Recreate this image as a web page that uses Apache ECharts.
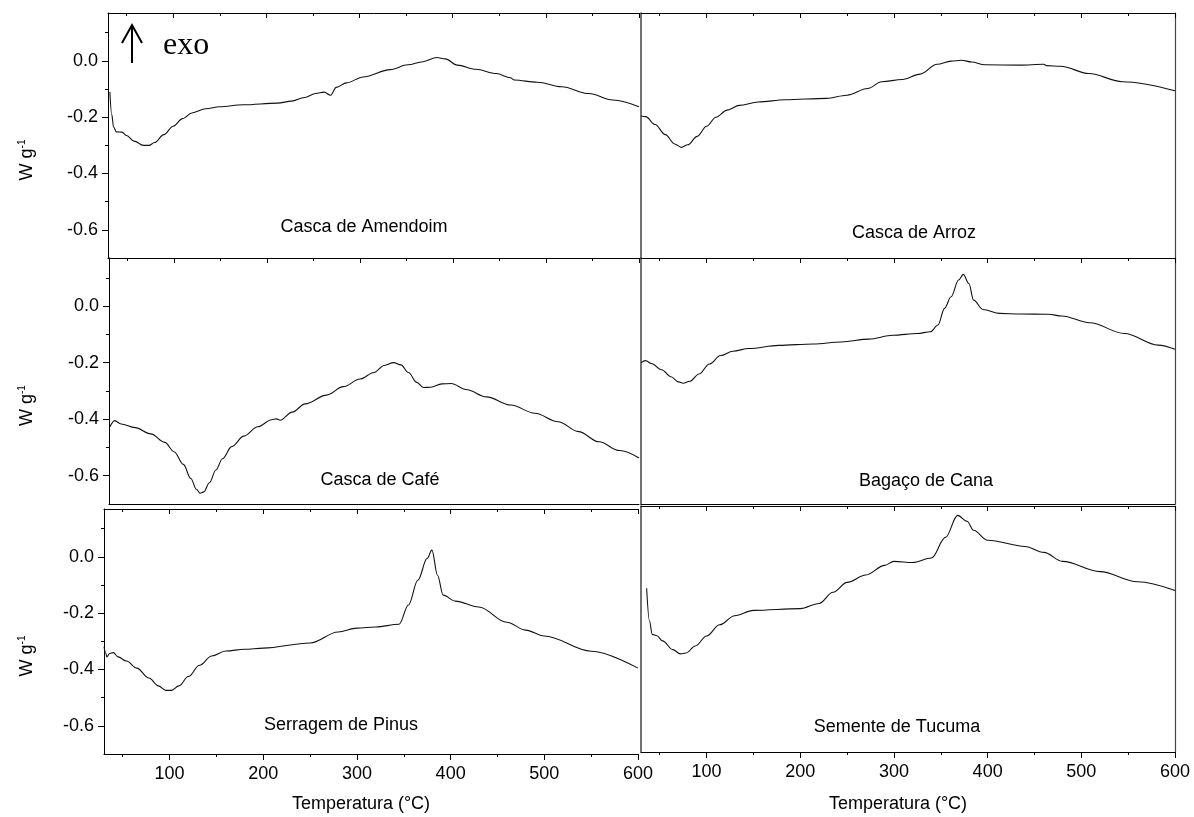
<!DOCTYPE html>
<html><head><meta charset="utf-8">
<script src="https://cdn.jsdelivr.net/npm/echarts@6/dist/echarts.min.js"></script>
<style>html,body{margin:0;padding:0;background:#fff}#c{width:1194px;height:817px}</style>
</head><body><div id="c"></div>
<script>
// ---------- DATA ----------
const panelNames = ['Casca de Amendoim', 'Casca de Arroz', 'Casca de Café', 'Bagaço de Cana', 'Serragem de Pinus', 'Semente de Tucuma'];

const T_amendoim = [32, 34, 36, 39, 45, 50, 58, 68, 74, 80, 90, 100, 110, 120, 135, 150, 175, 212, 227, 241, 253, 262, 269, 275, 286, 304, 333, 352, 368, 383, 392, 405, 425, 447, 462, 466, 491, 517, 546, 572, 600];
const W_amendoim = [-0.110, -0.190, -0.235, -0.252, -0.253, -0.265, -0.285, -0.300, -0.300, -0.290, -0.262, -0.232, -0.205, -0.185, -0.170, -0.163, -0.156, -0.150, -0.143, -0.130, -0.116, -0.111, -0.122, -0.094, -0.078, -0.057, -0.031, -0.014, -0.003, 0.012, 0.007, -0.015, -0.030, -0.045, -0.060, -0.068, -0.076, -0.092, -0.116, -0.139, -0.163];

const T_arroz = [30, 35, 45, 56, 66, 73, 80, 90, 100, 110, 122, 135, 155, 184, 228, 250, 272, 287, 309, 328, 346, 361, 372, 383, 397, 434, 460, 463, 478, 508, 544, 600];
const W_arroz = [-0.196, -0.198, -0.226, -0.262, -0.295, -0.307, -0.298, -0.268, -0.232, -0.200, -0.175, -0.158, -0.146, -0.138, -0.133, -0.122, -0.098, -0.074, -0.066, -0.047, -0.012, -0.001, 0.002, -0.004, -0.014, -0.015, -0.012, -0.017, -0.019, -0.045, -0.074, -0.106];

const T_cafe = [31, 36, 43, 58, 75, 90, 100, 110, 118, 124, 128, 132, 138, 145, 152, 162, 175, 190, 205, 210, 214, 227, 241, 264, 282, 300, 315, 326, 336, 344, 352, 361, 368, 376, 388, 398, 414, 436, 462, 488, 513, 535, 557, 579, 600];
const W_cafe = [-0.427, -0.405, -0.417, -0.430, -0.452, -0.482, -0.515, -0.560, -0.610, -0.648, -0.662, -0.657, -0.625, -0.580, -0.540, -0.497, -0.460, -0.427, -0.402, -0.399, -0.404, -0.375, -0.346, -0.315, -0.285, -0.258, -0.235, -0.210, -0.200, -0.208, -0.235, -0.270, -0.288, -0.287, -0.275, -0.274, -0.295, -0.321, -0.350, -0.379, -0.409, -0.444, -0.480, -0.511, -0.537];

const T_cana = [30, 35, 41, 52, 62, 70, 75, 82, 92, 103, 115, 128, 145, 177, 214, 244, 273, 299, 325, 339, 347, 354, 361, 369, 374, 380, 385, 395, 413, 435, 465, 479, 509, 546, 582, 600];
const W_cana = [-0.200, -0.193, -0.203, -0.225, -0.250, -0.268, -0.273, -0.266, -0.240, -0.205, -0.175, -0.160, -0.150, -0.139, -0.134, -0.127, -0.117, -0.103, -0.097, -0.091, -0.067, -0.008, 0.033, 0.092, 0.112, 0.080, 0.021, -0.012, -0.026, -0.028, -0.029, -0.035, -0.059, -0.097, -0.138, -0.153];

const T_pinus = [30, 32, 33, 36, 40, 45, 54, 65, 78, 88, 96, 102, 110, 120, 132, 145, 160, 180, 200, 250, 280, 300, 320, 345, 355, 365, 375, 380, 386, 392, 405, 430, 460, 480, 500, 550, 600];
const W_pinus = [-0.319, -0.343, -0.355, -0.343, -0.340, -0.355, -0.370, -0.395, -0.430, -0.458, -0.474, -0.474, -0.458, -0.425, -0.385, -0.352, -0.334, -0.328, -0.324, -0.306, -0.267, -0.253, -0.249, -0.239, -0.171, -0.083, -0.005, 0.024, -0.065, -0.136, -0.157, -0.178, -0.232, -0.260, -0.281, -0.335, -0.395];

const T_tucuma = [36, 39, 42, 47, 53, 64, 72, 78, 88, 100, 114, 130, 150, 200, 220, 235, 250, 270, 290, 300, 320, 340, 355, 368, 378, 385, 400, 440, 460, 480, 520, 560, 600];
const W_tucuma = [-0.121, -0.236, -0.284, -0.289, -0.307, -0.338, -0.353, -0.350, -0.325, -0.290, -0.250, -0.218, -0.199, -0.193, -0.175, -0.135, -0.100, -0.074, -0.040, -0.026, -0.030, -0.014, 0.059, 0.137, 0.116, 0.084, 0.049, 0.027, 0.006, -0.026, -0.062, -0.098, -0.129];

const xMajorTicks = [100, 200, 300, 400, 500, 600];
const xMinorTicks = [50, 150, 250, 350, 450, 550];
const yMajorTicks = [-0.6, -0.4, -0.2, 0.0];
const yMinorTicks = [-0.5, -0.3, -0.1, 0.1];
const xAxisTitle = 'Temperatura (°C)';
const yAxisTitleMain = 'W g';
const yAxisTitleSup = '-1';
const exoLabel = 'exo';

// ---------- LAYOUT ----------
const X_MIN = 30, X_MAX = 600, Y_MIN = -0.7, Y_MAX = 0.17;
const FONT = '"Liberation Sans", Arial, sans-serif';
const FS = 18;
const seriesT = [T_amendoim, T_arroz, T_cafe, T_cana, T_pinus, T_tucuma];
const seriesW = [W_amendoim, W_arroz, W_cafe, W_cana, W_pinus, W_tucuma];
const layout = [
  { left: 108, top: 13, width: 531, height: 245, col: 0, row: 0, lx: 364, ly: 227 },
  { left: 641, top: 13, width: 534, height: 245, col: 1, row: 0, lx: 914, ly: 233 },
  { left: 109, top: 258, width: 530, height: 246, col: 0, row: 1, lx: 380, ly: 480 },
  { left: 641, top: 258, width: 534, height: 246, col: 1, row: 1, lx: 926, ly: 481 },
  { left: 104, top: 509, width: 534, height: 245, col: 0, row: 2, lx: 341, ly: 725 },
  { left: 641, top: 506, width: 534, height: 246, col: 1, row: 2, lx: 897, ly: 727 }
];

const grid = [], xAxis = [], yAxis = [], series = [], graphic = [];
const black = '#000';
layout.forEach((p, i) => {
  const isBottom = p.row === 2, isLeft = p.col === 0;
  for (let k = 0; k < 2; k++) {
    grid.push({ left: p.left, top: p.top, width: p.width, height: p.height, containLabel: false });
  }
  const gMain = 2 * i, gMinor = 2 * i + 1;
  xAxis.push({
    gridIndex: gMain, type: 'value', min: X_MIN, max: X_MAX, position: 'bottom',
    axisLine: { show: true, onZero: false, lineStyle: { color: black, width: 1 } },
    axisTick: { show: isBottom, customValues: xMajorTicks, length: 6, lineStyle: { color: black } },
    axisLabel: { show: isBottom, customValues: xMajorTicks, margin: 11, color: black, fontSize: FS, fontFamily: FONT, showMinLabel: true, showMaxLabel: true },
    splitLine: { show: false }
  });
  xAxis.push({
    gridIndex: gMain, type: 'value', min: X_MIN, max: X_MAX, position: 'top',
    axisLine: { show: true, onZero: false, lineStyle: { color: black, width: 1 } },
    axisTick: { show: true, inside: true, customValues: xMajorTicks, length: 5, lineStyle: { color: black } },
    axisLabel: { show: false }, splitLine: { show: false }
  });
  yAxis.push({
    gridIndex: gMain, type: 'value', min: Y_MIN, max: Y_MAX, position: 'left',
    axisLine: { show: true, onZero: false, lineStyle: { color: isLeft ? black : '#444', width: isLeft ? 1 : 1.5 } },
    axisTick: { show: isLeft, customValues: yMajorTicks, length: 6, lineStyle: { color: black } },
    axisLabel: { show: isLeft, customValues: yMajorTicks, margin: 10, color: black, fontSize: FS, fontFamily: FONT, formatter: v => (+v).toFixed(1) },
    splitLine: { show: false }
  });
  yAxis.push({
    gridIndex: gMain, type: 'value', min: Y_MIN, max: Y_MAX, position: 'right',
    axisLine: { show: !isLeft, onZero: false, lineStyle: { color: '#444', width: 1.2 } },
    axisTick: { show: false }, axisLabel: { show: false }, splitLine: { show: false }
  });
  xAxis.push({
    gridIndex: gMinor, type: 'value', min: X_MIN, max: X_MAX, position: 'bottom',
    axisLine: { show: false, onZero: false },
    axisTick: { show: isBottom, customValues: xMinorTicks, length: 3, lineStyle: { color: black } },
    axisLabel: { show: false }, splitLine: { show: false }
  });
  xAxis.push({
    gridIndex: gMinor, type: 'value', min: X_MIN, max: X_MAX, position: 'top',
    axisLine: { show: false, onZero: false },
    axisTick: { show: true, inside: true, customValues: xMinorTicks, length: 3, lineStyle: { color: black } },
    axisLabel: { show: false }, splitLine: { show: false }
  });
  yAxis.push({
    gridIndex: gMinor, type: 'value', min: Y_MIN, max: Y_MAX, position: 'left',
    axisLine: { show: false, onZero: false },
    axisTick: { show: isLeft, customValues: yMinorTicks, length: 3, lineStyle: { color: black } },
    axisLabel: { show: false }, splitLine: { show: false }
  });

  const T = seriesT[i], W = seriesW[i];
  series.push({
    type: 'line', name: panelNames[i], xAxisIndex: 4 * i, yAxisIndex: 3 * i,
    data: T.map((t, j) => [t, W[j]]),
    showSymbol: false, symbol: 'none', smooth: 0.35, smoothMonotone: 'x',
    lineStyle: { color: '#111', width: 1.1 }, silent: true, animation: false, clip: true
  });

  graphic.push({
    type: 'text', x: p.lx, y: p.ly, silent: true,
    style: { text: panelNames[i], fill: black, font: FS + 'px ' + FONT, align: 'center', verticalAlign: 'middle' }
  });
  if (isLeft) {
    graphic.push({
      type: 'text', x: 27, y: p.top + p.height * 0.6, rotation: Math.PI / 2, silent: true,
      style: {
        text: '{a|' + yAxisTitleMain + '}{b|' + yAxisTitleSup + '}', align: 'center', verticalAlign: 'middle',
        rich: { a: { fontSize: FS, fontFamily: FONT, fill: black, lineHeight: 20 }, b: { fontSize: 10, fontFamily: FONT, fill: black, verticalAlign: 'top', lineHeight: 20 } }
      }
    });
  }
  if (isBottom) {
    graphic.push({
      type: 'text', x: p.left + p.width / 2 - 10, y: 804, silent: true,
      style: { text: xAxisTitle, fill: black, font: FS + 'px ' + FONT, align: 'center', verticalAlign: 'middle' }
    });
  }
});

graphic.push({ type: 'line', silent: true, shape: { x1: 132, y1: 63, x2: 132, y2: 26 }, style: { stroke: black, lineWidth: 2 } });
graphic.push({ type: 'polyline', silent: true, shape: { points: [[122, 43], [132, 25], [142, 43]] }, style: { stroke: black, lineWidth: 2, fill: null } });
graphic.push({ type: 'text', x: 163, y: 46, silent: true, style: { text: exoLabel, fill: black, font: '32px "Liberation Serif", "Times New Roman", serif', align: 'left', verticalAlign: 'middle' } });

const chart = echarts.init(document.getElementById('c'), null, { renderer: 'canvas' });
chart.setOption({
  animation: false,
  backgroundColor: '#fff',
  grid, xAxis, yAxis, series, graphic
});
</script>
</body></html>
